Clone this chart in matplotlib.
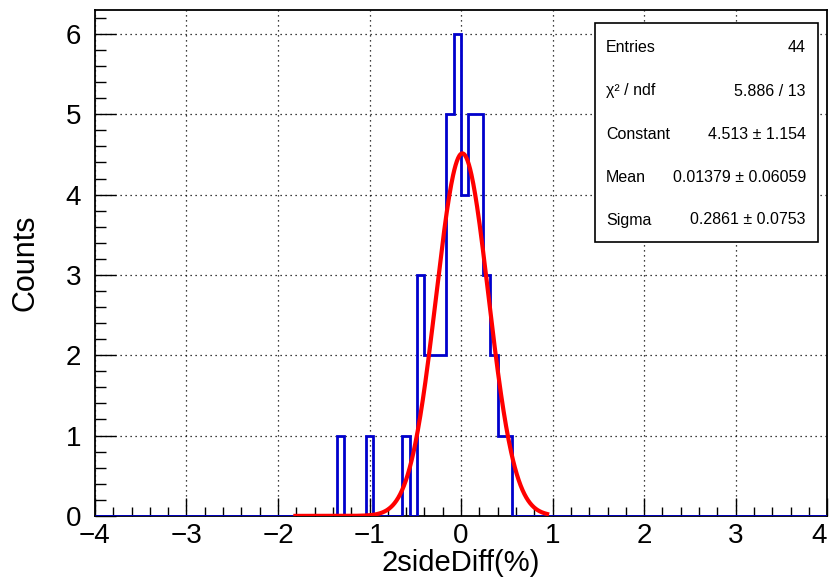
import numpy as np
import matplotlib
matplotlib.use("Agg")
import matplotlib.pyplot as plt

plt.rcParams['font.family'] = ['Liberation Sans', 'DejaVu Sans']

# histogram contents (100 bins of 0.08 from -4 to 4), only the filled bins
bin_lo = [-1.36, -1.04, -0.64, -0.48, -0.40, -0.32, -0.24, -0.16, -0.08,
          0.00, 0.08, 0.16, 0.24, 0.32, 0.40, 0.48]
counts = [1, 1, 1, 3, 2, 2, 2, 5, 6, 4, 5, 5, 3, 2, 1, 1]
n_bins = 100
x_min, x_max = -4.0, 4.0

# gaus fit results
fit_const = 4.513
fit_mean = 0.01379
fit_sigma = 0.2861
fit_range = (-1.81, 0.94)

stat_names = ["Entries", "χ² / ndf", "Constant", "Mean", "Sigma"]
stat_values = ["44", "5.886 / 13", "4.513 ± 1.154", "0.01379 ± 0.06059", "0.2861 ± 0.0753"]

edges = np.linspace(x_min, x_max, n_bins + 1)
centers = np.array(bin_lo) + 0.04
h, _ = np.histogram(centers, bins=edges, weights=counts)

fig = plt.figure(figsize=(8.33, 5.79), dpi=100)
ax = fig.add_axes([0.114, 0.109, 0.879, 0.874])

ax.stairs(h, edges, color=(0, 0, 0.8), lw=2.0, zorder=3)

xf = np.linspace(fit_range[0], fit_range[1], 400)
yf = fit_const * np.exp(-0.5 * ((xf - fit_mean) / fit_sigma) ** 2)
ax.plot(xf, yf, color='red', lw=3, zorder=4)

ax.set_xlim(x_min, x_max)
ax.set_ylim(0, 6.3)
ax.set_xticks(np.arange(-4, 5, 1))
ax.set_xticks(np.arange(-4, 4.01, 0.2), minor=True)
ax.set_yticks(np.arange(0, 7, 1))
ax.set_yticks(np.arange(0, 6.31, 0.2), minor=True)
ax.set_xticklabels([("−" if v < 0 else "") + str(abs(v)) for v in range(-4, 5)])
ax.get_xticklabels()[-1].set_ha('right')

ax.tick_params(axis='both', which='both', direction='in', top=False, right=False,
               labelsize=20, width=1.0)
ax.tick_params(axis='x', which='major', length=13, pad=5)
ax.tick_params(axis='x', which='minor', length=6.5)
ax.tick_params(axis='y', which='major', length=15, pad=10)
ax.tick_params(axis='y', which='minor', length=8)

ax.grid(True, which='major', color='black', linestyle=(0, (1, 3)), lw=0.9)
for sp in ax.spines.values():
    sp.set_linewidth(1.3)

ax.set_xlabel("2sideDiff(%)", fontsize=21, labelpad=0)
ax.set_ylabel("Counts", fontsize=22, labelpad=18)

# stats box
bx0, by0, bx1, by1 = 595 / 833, 1 - 242 / 579, 818 / 833, 1 - 23 / 579
fig.patches.append(plt.Rectangle((bx0, by0), bx1 - bx0, by1 - by0, transform=fig.transFigure,
                                 facecolor='white', edgecolor='black', lw=1.2, zorder=5))
row_y = [48, 91, 135, 177, 220]
for name, val, yy in zip(stat_names, stat_values, row_y):
    fig.text(606 / 833, 1 - yy / 579, name, fontsize=11.5, va='center', ha='left', zorder=6)
    fig.text(806 / 833, 1 - yy / 579, val, fontsize=11.5, va='center', ha='right', zorder=6)

fig.savefig("out.png", dpi=100)
